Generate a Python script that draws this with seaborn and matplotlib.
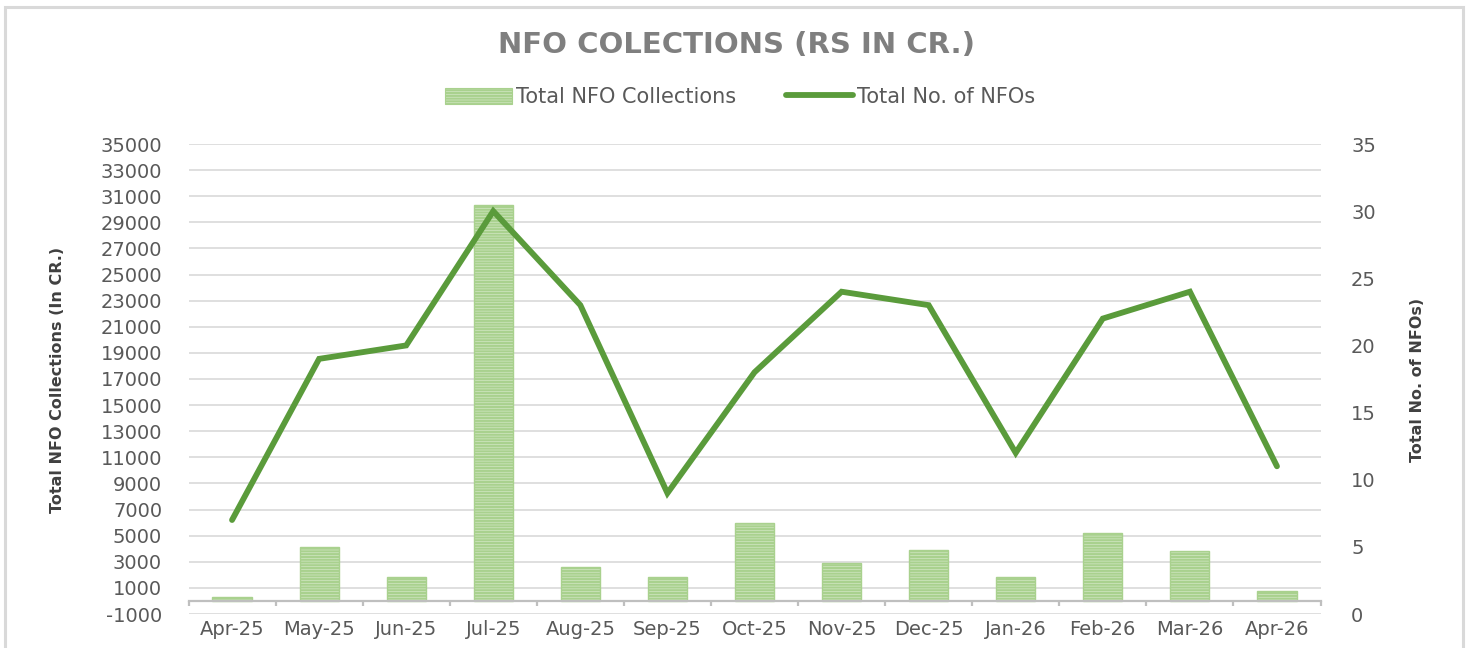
import numpy as np
import matplotlib
matplotlib.use("Agg")
import matplotlib.pyplot as plt
from matplotlib.patches import Patch, Rectangle
from matplotlib.lines import Line2D
from matplotlib.ticker import FixedLocator
import seaborn as sns

months = ["Apr-25", "May-25", "Jun-25", "Jul-25", "Aug-25", "Sep-25", "Oct-25",
          "Nov-25", "Dec-25", "Jan-26", "Feb-26", "Mar-26", "Apr-26"]
collections = [300, 4100, 1800, 30350, 2600, 1800, 6000, 2900, 3900, 1800, 5200, 3800, 800]
nfo_counts = [7, 19, 20, 30, 23, 9, 18, 24, 23, 12, 22, 24, 11]
left_ticks = list(range(-1000, 35001, 2000))
right_ticks = list(range(0, 36, 5))

title = "NFO COLECTIONS (RS IN CR.)"
bar_label = "Total NFO Collections"
line_label = "Total No. of NFOs"
left_ylabel = "Total NFO Collections (In CR.)"
right_ylabel = "Total No. of NFOs)"

sns.set_theme(style="white")
plt.rcParams['font.family'] = ['DejaVu Sans']
plt.rcParams['hatch.linewidth'] = 1.6

GRAY_TXT = "#595959"
GRID = "#d9d9d9"
LINE_C = "#5a9b3b"
BAR_FACE = "#dcedd1"
BAR_HATCH = "#a9d18e"

W, H = 1472, 648
fig = plt.figure(figsize=(W / 100, H / 100), dpi=100)
fig.patch.set_facecolor("white")
fig.patches.append(Rectangle((5 / W, -0.02), 1458 / W, 1 - 7 / H + 0.02,
                             transform=fig.transFigure, fill=False,
                             edgecolor="#d9d9d9", linewidth=2.2))

x0, x1, ytop, ybot = 188.5, 1320.5, 144, 614
ax = fig.add_axes([x0 / W, 1 - ybot / H, (x1 - x0) / W, (ybot - ytop) / H])

sns.barplot(x=months, y=collections, ax=ax, width=0.45, color=BAR_FACE,
            edgecolor=BAR_HATCH, linewidth=1.0, hatch="------", saturation=1)
ax.set_xlim(-0.5, len(months) - 0.5)
ax.set_ylim(left_ticks[0], left_ticks[-1])
ax.set_yticks(left_ticks)
ax.set_yticklabels([str(t) for t in left_ticks])
ax.set_axisbelow(True)
ax.grid(axis="y", color=GRID, linewidth=1.2)
ax.grid(axis="x", visible=False)
for s in ["top", "right", "left"]:
    ax.spines[s].set_visible(False)
ax.spines["bottom"].set_position(("data", 0))
ax.spines["bottom"].set_color("#bfbfbf")
ax.spines["bottom"].set_linewidth(1.6)
ax.xaxis.set_minor_locator(FixedLocator(np.arange(-0.5, len(months), 1.0)))
ax.tick_params(axis="x", which="minor", bottom=True, length=3.5, width=1.6,
               color="#bfbfbf", direction="out")
ax.tick_params(axis="x", which="major", bottom=True, length=0, pad=14, labelsize=14,
               labelcolor=GRAY_TXT)
ax.tick_params(axis="y", length=0, pad=19, labelsize=14, labelcolor=GRAY_TXT)
ax.set_xlabel("")
ax.set_ylabel(left_ylabel, fontsize=11.5, fontweight="bold", color="#404040")

ax2 = ax.twinx()
sns.lineplot(x=months, y=nfo_counts, ax=ax2, color=LINE_C, linewidth=4.2,
             sort=False, solid_joinstyle="miter")
ax2.set_ylim(right_ticks[0], right_ticks[-1])
ax2.set_yticks(right_ticks)
ax2.set_yticklabels([str(t) for t in right_ticks])
ax2.set_xlim(-0.5, len(months) - 0.5)
ax2.grid(False)
for s in ["top", "right", "left", "bottom"]:
    ax2.spines[s].set_visible(False)
ax2.tick_params(axis="y", length=0, pad=22, labelsize=14, labelcolor=GRAY_TXT)
ax2.set_xlabel("")
ax2.set_ylabel(right_ylabel, fontsize=11.5, fontweight="bold", color="#404040",
               rotation=90)

ax.yaxis.set_label_coords(65 / W, 1 - 380 / H, transform=fig.transFigure)
ax2.yaxis.set_label_coords(1410 / W, 1 - 380 / H, transform=fig.transFigure)

fig.text(0.5, 1 - 45 / H, title, ha="center", va="center", fontsize=21,
         fontweight="bold", color="#7f7f7f")

handles = [Patch(facecolor=BAR_FACE, edgecolor=BAR_HATCH, hatch="------", linewidth=0.8),
           Line2D([0], [0], color=LINE_C, linewidth=4.2)]
fig.legend(handles, [bar_label, line_label], loc="center", ncol=2,
           bbox_to_anchor=(740 / W, 1 - 97 / H), frameon=False, fontsize=15,
           handlelength=3.2, handleheight=0.8, columnspacing=2.4, handletextpad=0.2,
           labelcolor=GRAY_TXT)

fig.savefig("out.png", dpi=100)
